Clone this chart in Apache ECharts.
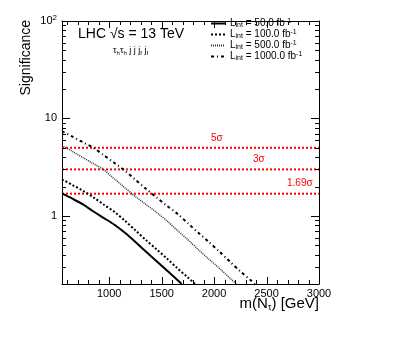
<!DOCTYPE html>
<html>
<head>
<meta charset="utf-8">
<script src="https://cdn.jsdelivr.net/npm/echarts@6/dist/echarts.min.js"></script>
<style>
html, body { margin: 0; padding: 0; background: #fff; }
#chart { width: 415px; height: 339px; }
</style>
</head>
<body>
<div id="chart"></div>
<script>
// axis ranges
const massRange = [550, 3000];
const sigRange = [0.2, 100];

// significance curves, one per integrated luminosity
const lumiLabels = ['50.0', '100.0', '500.0', '1000.0'];
const mass50 = [550, 650, 750, 850, 950, 1050, 1150, 1250, 1350, 1450, 1550, 1650, 1690];
const sig50 = [1.70, 1.50, 1.31, 1.11, 0.95, 0.81, 0.67, 0.54, 0.43, 0.345, 0.275, 0.22, 0.2];
const mass100 = [550, 650, 750, 850, 950, 1050, 1150, 1250, 1350, 1450, 1550, 1650, 1750, 1817];
const sig100 = [2.37, 2.07, 1.81, 1.55, 1.30, 1.10, 0.89, 0.71, 0.565, 0.455, 0.365, 0.29, 0.233, 0.2];
const mass500 = [550, 650, 750, 850, 950, 1050, 1150, 1250, 1350, 1450, 1550, 1650, 1750, 1850, 1950, 2050, 2150, 2213];
const sig500 = [5.3, 4.58, 3.96, 3.43, 2.96, 2.39, 1.94, 1.58, 1.31, 1.09, 0.89, 0.71, 0.57, 0.45, 0.36, 0.29, 0.23, 0.2];
const mass1000 = [550, 650, 750, 850, 950, 1050, 1150, 1250, 1350, 1450, 1550, 1650, 1750, 1850, 1950, 2050, 2150, 2250, 2350, 2388];
const sig1000 = [7.4, 6.49, 5.69, 4.99, 4.18, 3.49, 2.91, 2.35, 1.90, 1.55, 1.27, 1.05, 0.84, 0.67, 0.54, 0.43, 0.34, 0.27, 0.218, 0.2];

// reference significance levels
const sigmaLevels = [5, 3, 1.69];
const sigmaLabels = ['5σ', '3σ', '1.69σ'];
const sigmaLabelMass = [2026, 2426, 2817];

// ticks
const xMajorTicks = [1000, 1500, 2000, 2500, 3000];
const yMajorTicks = [1, 10, 100];

const xMinorTicks = [];
for (let m = 600; m < 3000; m += 100) {
	if (m % 500 !== 0) xMinorTicks.push(m);
}
const yMinorTicks = [];
[0.1, 1, 10].forEach(d => {
	for (let k = 2; k <= 9; k++) {
		const v = +(k * d).toPrecision(3);
		if (v >= sigRange[0]) yMinorTicks.push(v);
	}
});

const FONT = 'Liberation Sans';

const xAxisCfg = (position, showLabels) => ({
	type: 'value',
	position: position,
	min: massRange[0],
	max: massRange[1],
	axisLine: { show: true, onZero: false, lineStyle: { color: '#000', width: 1 } },
	axisTick: { show: false },
	axisLabel: {
		show: showLabels,
		customValues: xMajorTicks,
		margin: 4,
		color: '#000',
		fontFamily: FONT,
		fontSize: 11,
		formatter: val => String(val)
	},
	splitLine: { show: false }
});

const yAxisCfg = (position, showLabels) => ({
	type: 'log',
	logBase: 10,
	position: position,
	min: sigRange[0],
	max: sigRange[1],
	axisLine: { show: true, lineStyle: { color: '#000', width: 1 } },
	axisTick: { show: false },
	axisLabel: {
		show: showLabels,
		customValues: yMajorTicks,
		margin: 5,
		color: '#000',
		fontFamily: FONT,
		fontSize: 11,
		formatter: function (val) {
			if (Math.abs(val - 100) < 1e-6) return '10{sup|2}';
			return String(Math.round(val));
		},
		rich: {
			sup: { fontSize: 8, fontFamily: FONT, color: '#000', padding: [0, 0, 7, 0] }
		}
	},
	splitLine: { show: false }
});

const curveStyles = [
	{ width: 2, type: 'solid', color: '#000' },
	{ width: 2, type: [2, 2], color: '#000' },
	{ width: 1.5, type: [1, 1], color: '#333' },
	{ width: 2, type: [3, 3, 1, 3], color: '#000' }
];
const curveMass = [mass50, mass100, mass500, mass1000];
const curveSig = [sig50, sig100, sig500, sig1000];

const curveSeries = lumiLabels.map((lab, i) => ({
	name: lab,
	type: 'line',
	smooth: 0.3,
	showSymbol: false,
	symbol: 'none',
	color: curveStyles[i].color,
	lineStyle: curveStyles[i],
	data: curveMass[i].map((m, j) => [m, curveSig[i][j]]),
	z: 3
}));

const sigmaSeries = sigmaLevels.map((lvl, i) => ({
	name: sigmaLabels[i],
	type: 'line',
	showSymbol: false,
	symbol: 'none',
	color: '#ff0000',
	lineStyle: { color: '#ff0000', width: 2, type: [2, 2] },
	data: [[massRange[0], lvl], [massRange[1], lvl]],
	markPoint: {
		symbol: 'circle',
		symbolSize: 0,
		label: {
			show: true,
			position: 'inside',
			offset: [0, -10],
			formatter: sigmaLabels[i],
			color: '#ff0000',
			fontFamily: FONT,
			fontSize: 10
		},
		data: [{ coord: [sigmaLabelMass[i], lvl] }]
	},
	z: 2
}));

// inward tick marks on all four sides, as thin filled rects placed through the axis scales
const tickSeries = (values, dir, len) => ({
	type: 'custom',
	silent: true,
	z: 5,
	clip: false,
	data: values.map(v => (dir === 'x' ? [v, sigRange[0]] : [massRange[0], v])),
	renderItem: function (params, api) {
		const st = { fill: '#000' };
		if (dir === 'x') {
			const v = api.value(0);
			const a = api.coord([v, sigRange[0]]);
			const b = api.coord([v, sigRange[1]]);
			const px = Math.round(a[0]);
			return {
				type: 'group',
				children: [
					{ type: 'rect', shape: { x: px, y: a[1] - len, width: 1, height: len }, style: st },
					{ type: 'rect', shape: { x: px, y: b[1], width: 1, height: len }, style: st }
				]
			};
		}
		const v = api.value(1);
		const a = api.coord([massRange[0], v]);
		const b = api.coord([massRange[1], v]);
		const py = Math.round(a[1]);
		return {
			type: 'group',
			children: [
				{ type: 'rect', shape: { x: a[0], y: py, width: len, height: 1 }, style: st },
				{ type: 'rect', shape: { x: b[0] - len, y: py, width: len, height: 1 }, style: st }
			]
		};
	}
});

const titles = [
	{
		type: 'text',
		x: 26,
		y: 20,
		rotation: Math.PI / 2,
		style: {
			text: 'Significance',
			fontFamily: FONT,
			fontSize: 14,
			fill: '#000',
			align: 'right',
			verticalAlign: 'middle'
		}
	},
	{
		type: 'text',
		x: 319,
		y: 304,
		style: {
			text: 'm(N{sub|τ}) [GeV]',
			fontFamily: FONT,
			fontSize: 15,
			fill: '#000',
			align: 'right',
			verticalAlign: 'middle',
			rich: {
				sub: { fontSize: 9, fontFamily: FONT, fill: '#000', padding: [7, 0, 0, 0] }
			}
		}
	},
	{
		type: 'text',
		x: 78,
		y: 34,
		style: {
			text: 'LHC √s = 13 TeV',
			fontFamily: FONT,
			fontSize: 14,
			fill: '#000',
			align: 'left',
			verticalAlign: 'middle'
		}
	},
	{
		type: 'text',
		x: 113,
		y: 51,
		style: {
			text: 'τ{sub|h}τ{sub|h} j j j{sub|f} j{sub|f}',
			fontFamily: FONT,
			fontSize: 9,
			fill: '#000',
			align: 'left',
			verticalAlign: 'middle',
			rich: {
				sub: { fontSize: 6, fontFamily: FONT, fill: '#000', padding: [4, 0, 0, 0] }
			}
		}
	}
];

const chart = echarts.init(document.getElementById('chart'), null, { renderer: 'canvas' });

const option = {
	backgroundColor: '#fff',
	animation: false,
	grid: { left: 62, right: 96, top: 21, bottom: 55, containLabel: false },
	xAxis: [xAxisCfg('bottom', true), xAxisCfg('top', false)],
	yAxis: [yAxisCfg('left', true), yAxisCfg('right', false)],
	legend: {
		data: lumiLabels,
		orient: 'vertical',
		left: 210,
		top: 18,
		padding: 0,
		itemWidth: 14,
		itemHeight: 8,
		itemGap: 0,
		selectedMode: false,
		itemStyle: { opacity: 0 },
		formatter: function (name) {
			return 'L{sub|int} = ' + name + ' fb{sup|-1}';
		},
		textStyle: {
			color: '#000',
			fontFamily: FONT,
			fontSize: 10,
			lineHeight: 11,
			rich: {
				sub: { fontSize: 7, fontFamily: FONT, color: '#000', lineHeight: 7, padding: [4, 0, 0, 0] },
				sup: { fontSize: 7, fontFamily: FONT, color: '#000', lineHeight: 7, padding: [0, 0, 4, 0] }
			}
		}
	},
	graphic: titles,
	series: sigmaSeries.concat(curveSeries).concat([
		tickSeries(xMajorTicks, 'x', 7),
		tickSeries(xMinorTicks, 'x', 4),
		tickSeries(yMajorTicks, 'y', 8),
		tickSeries(yMinorTicks, 'y', 4)
	])
};

chart.setOption(option);
</script>
</body>
</html>
